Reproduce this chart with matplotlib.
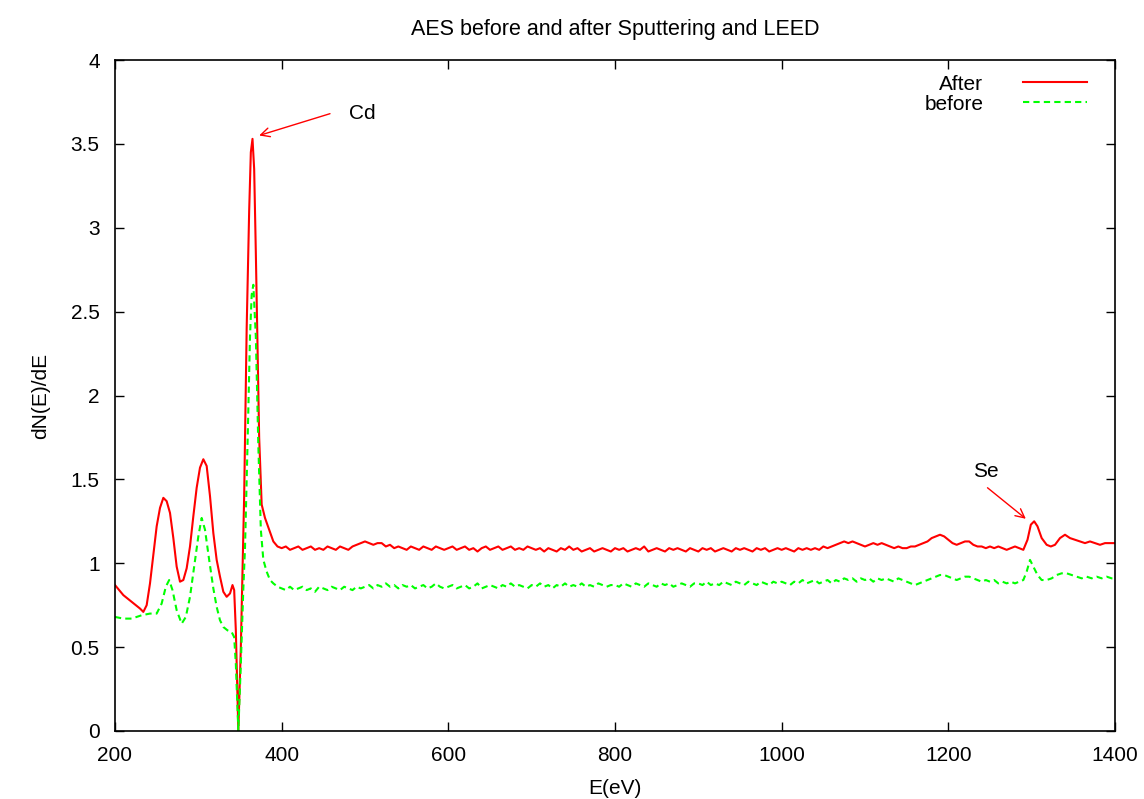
import matplotlib
matplotlib.use("Agg")
import matplotlib.pyplot as plt

plt.rcParams['font.family'] = ['Liberation Sans', 'DejaVu Sans']

# ---- After sputtering + LEED ----
# low-energy part (Cd region)
after_E_low = [200, 205, 210, 215, 220, 225, 230, 234, 238, 242, 246, 250, 254, 258,
               262, 266, 270, 274, 278, 282, 286, 290, 294, 298, 302, 306, 310, 314,
               318, 322, 326, 330, 334, 338, 341, 343, 345, 347, 348, 351, 355, 358,
               361, 363, 365, 367, 369, 371, 373, 376, 380, 385, 390, 395]
after_low = [0.87, 0.84, 0.81, 0.79, 0.77, 0.75, 0.73, 0.71, 0.75, 0.88, 1.05, 1.22, 1.33, 1.39,
             1.37, 1.30, 1.15, 0.98, 0.89, 0.90, 0.97, 1.10, 1.28, 1.45, 1.57, 1.62, 1.58, 1.40,
             1.18, 1.02, 0.92, 0.83, 0.80, 0.82, 0.87, 0.84, 0.60, 0.20, 0.00, 0.50, 1.40, 2.40,
             3.10, 3.45, 3.53, 3.35, 2.85, 2.30, 1.75, 1.35, 1.27, 1.20, 1.13, 1.10]
# flat part, 5 eV steps from 400 to 1290
after_mid = [1.09, 1.10, 1.08, 1.09, 1.10, 1.08, 1.09, 1.10, 1.08, 1.09,
             1.08, 1.10, 1.09, 1.08, 1.10, 1.09, 1.08, 1.10, 1.11, 1.12,
             1.13, 1.12, 1.11, 1.12, 1.12, 1.10, 1.11, 1.09, 1.10, 1.09,
             1.08, 1.10, 1.09, 1.08, 1.10, 1.09, 1.08, 1.10, 1.09, 1.08,
             1.09, 1.10, 1.08, 1.09, 1.10, 1.08, 1.09, 1.07, 1.09, 1.10,
             1.08, 1.09, 1.10, 1.08, 1.09, 1.10, 1.08, 1.09, 1.08, 1.10,
             1.09, 1.08, 1.09, 1.07, 1.09, 1.08, 1.07, 1.09, 1.08, 1.10,
             1.08, 1.09, 1.07, 1.08, 1.09, 1.07, 1.08, 1.09, 1.08, 1.07,
             1.09, 1.08, 1.09, 1.07, 1.08, 1.09, 1.08, 1.10, 1.07, 1.08,
             1.09, 1.08, 1.07, 1.09, 1.08, 1.09, 1.08, 1.07, 1.09, 1.08,
             1.07, 1.09, 1.08, 1.09, 1.07, 1.08, 1.09, 1.08, 1.07, 1.09,
             1.08, 1.09, 1.08, 1.07, 1.09, 1.08, 1.09, 1.07, 1.08, 1.09,
             1.08, 1.09, 1.08, 1.07, 1.09, 1.08, 1.09, 1.08, 1.09, 1.08,
             1.10, 1.09, 1.10, 1.11, 1.12, 1.13, 1.12, 1.13, 1.12, 1.11,
             1.10, 1.11, 1.12, 1.11, 1.12, 1.11, 1.10, 1.09, 1.10, 1.09,
             1.09, 1.10, 1.10, 1.11, 1.12, 1.13, 1.15, 1.16, 1.17, 1.16,
             1.14, 1.12, 1.11, 1.12, 1.13, 1.13, 1.11, 1.10, 1.10, 1.09,
             1.10, 1.09, 1.10, 1.09, 1.08, 1.09, 1.10, 1.09, 1.08]
# Se region
after_E_high = [1295, 1299, 1303, 1307, 1312, 1318, 1323, 1328, 1334, 1340, 1346,
                1352, 1358, 1364, 1370, 1376, 1382, 1388, 1394, 1400]
after_high = [1.14, 1.23, 1.25, 1.22, 1.15, 1.11, 1.10, 1.11, 1.15, 1.17, 1.15,
              1.14, 1.13, 1.12, 1.13, 1.12, 1.11, 1.12, 1.12, 1.12]

# ---- before sputtering ----
before_E_low = [200, 210, 220, 232, 242, 250, 256, 261, 265, 269, 274, 280, 285, 290,
                295, 300, 304, 308, 313, 318, 322, 326, 330, 335, 340, 343, 345, 348,
                351, 354, 356, 359, 362, 364, 366, 369, 372, 375, 378, 382, 386, 390,
                395]
before_low = [0.68, 0.67, 0.67, 0.69, 0.70, 0.70, 0.76, 0.86, 0.90, 0.84, 0.72, 0.64, 0.68, 0.80,
              0.98, 1.16, 1.27, 1.20, 1.02, 0.85, 0.74, 0.66, 0.62, 0.60, 0.59, 0.56, 0.40, 0.00,
              0.40, 0.85, 1.09, 1.70, 2.35, 2.60, 2.66, 2.35, 1.70, 1.20, 1.02, 0.95, 0.90, 0.88,
              0.86]
before_mid = [0.85, 0.84, 0.86, 0.84, 0.85, 0.86, 0.84, 0.85, 0.83, 0.86,
              0.85, 0.84, 0.86, 0.85, 0.84, 0.86, 0.85, 0.84, 0.86, 0.85,
              0.86, 0.87, 0.85, 0.87, 0.86, 0.88, 0.86, 0.87, 0.85, 0.87,
              0.86, 0.87, 0.85, 0.86, 0.87, 0.85, 0.86, 0.88, 0.86, 0.85,
              0.86, 0.87, 0.85, 0.86, 0.87, 0.85, 0.86, 0.88, 0.85, 0.86,
              0.87, 0.86, 0.85, 0.87, 0.86, 0.88, 0.86, 0.87, 0.86, 0.85,
              0.87, 0.86, 0.88, 0.86, 0.87, 0.85, 0.87, 0.86, 0.88, 0.86,
              0.87, 0.86, 0.88, 0.86, 0.87, 0.86, 0.88, 0.87, 0.86, 0.87,
              0.87, 0.86, 0.88, 0.87, 0.86, 0.88, 0.87, 0.86, 0.88, 0.87,
              0.86, 0.88, 0.87, 0.88, 0.86, 0.87, 0.88, 0.87, 0.86, 0.88,
              0.88, 0.87, 0.89, 0.87, 0.88, 0.87, 0.89, 0.88, 0.87, 0.89,
              0.88, 0.87, 0.89, 0.88, 0.87, 0.89, 0.88, 0.87, 0.89, 0.88,
              0.89, 0.88, 0.87, 0.89, 0.88, 0.90, 0.88, 0.89, 0.90, 0.88,
              0.89, 0.90, 0.88, 0.90, 0.89, 0.91, 0.90, 0.91, 0.89, 0.91,
              0.90, 0.91, 0.89, 0.91, 0.90, 0.91, 0.90, 0.89, 0.91, 0.90,
              0.89, 0.88, 0.87, 0.88, 0.89, 0.90, 0.91, 0.92, 0.93, 0.93,
              0.92, 0.91, 0.90, 0.91, 0.92, 0.92, 0.91, 0.90, 0.89, 0.90,
              0.89, 0.90, 0.88, 0.89, 0.88, 0.89, 0.88, 0.89, 0.90]
before_E_high = [1294, 1298, 1302, 1307, 1312, 1318, 1324, 1330, 1336, 1342, 1348,
                 1354, 1360, 1366, 1372, 1378, 1384, 1390, 1396, 1400]
before_high = [0.95, 1.02, 0.98, 0.93, 0.90, 0.90, 0.91, 0.93, 0.94, 0.94, 0.93,
               0.92, 0.91, 0.92, 0.91, 0.92, 0.91, 0.92, 0.91, 0.91]

mid_E = list(range(400, 1295, 5))

after_E = after_E_low + mid_E + after_E_high
after_val = after_low + after_mid + after_high
before_E = before_E_low + mid_E + before_E_high
before_val = before_low + before_mid + before_high

xticks = [200, 400, 600, 800, 1000, 1200, 1400]
yticks = [0, 0.5, 1, 1.5, 2, 2.5, 3, 3.5, 4]
ytick_labels = ['0', '0.5', '1', '1.5', '2', '2.5', '3', '3.5', '4']

fig = plt.figure(figsize=(11.44, 7.99), dpi=100)
ax = fig.add_axes([115 / 1144, 1 - 731 / 799, 1000 / 1144, 671 / 799])

ax.plot(after_E, after_val, color='#ff0000', lw=1.5, label='After')
ax.plot(before_E, before_val, color='#00ff00', lw=1.5, dashes=(3, 2), label='before')

ax.set_xlim(200, 1400)
ax.set_ylim(0, 4)
ax.set_xticks(xticks)
ax.set_yticks(yticks)
ax.set_yticklabels(ytick_labels)
ax.tick_params(direction='in', length=6.5, width=1, top=True, right=True,
               labelsize=15)
ax.tick_params(axis='x', pad=11)
ax.tick_params(axis='y', pad=11)
for s in ax.spines.values():
    s.set_linewidth(1.2)

ax.set_xlabel('E(eV)', fontsize=15, labelpad=10)
ax.set_ylabel('dN(E)/dE', fontsize=15, labelpad=15)
ax.set_title('AES before and after Sputtering and LEED', fontsize=15.5, pad=18)

# peak labels
arr = dict(arrowstyle='->', color='#ff0000', lw=1, shrinkA=0, shrinkB=0,
           mutation_scale=16)
ax.annotate('', xy=(373, 3.55), xytext=(458, 3.68), arrowprops=arr)
ax.text(481, 3.68, 'Cd', fontsize=15, va='center', ha='left')
ax.annotate('', xy=(1293, 1.265), xytext=(1247, 1.45), arrowprops=arr)
ax.text(1245, 1.545, 'Se', fontsize=15, va='center', ha='center')

ax.legend(loc='upper right', markerfirst=False, frameon=False, fontsize=15,
          handlelength=3.1, handletextpad=1.9, labelspacing=0.05,
          borderaxespad=0.3, bbox_to_anchor=(0.987, 1.0))

fig.savefig('out.png', dpi=100)
